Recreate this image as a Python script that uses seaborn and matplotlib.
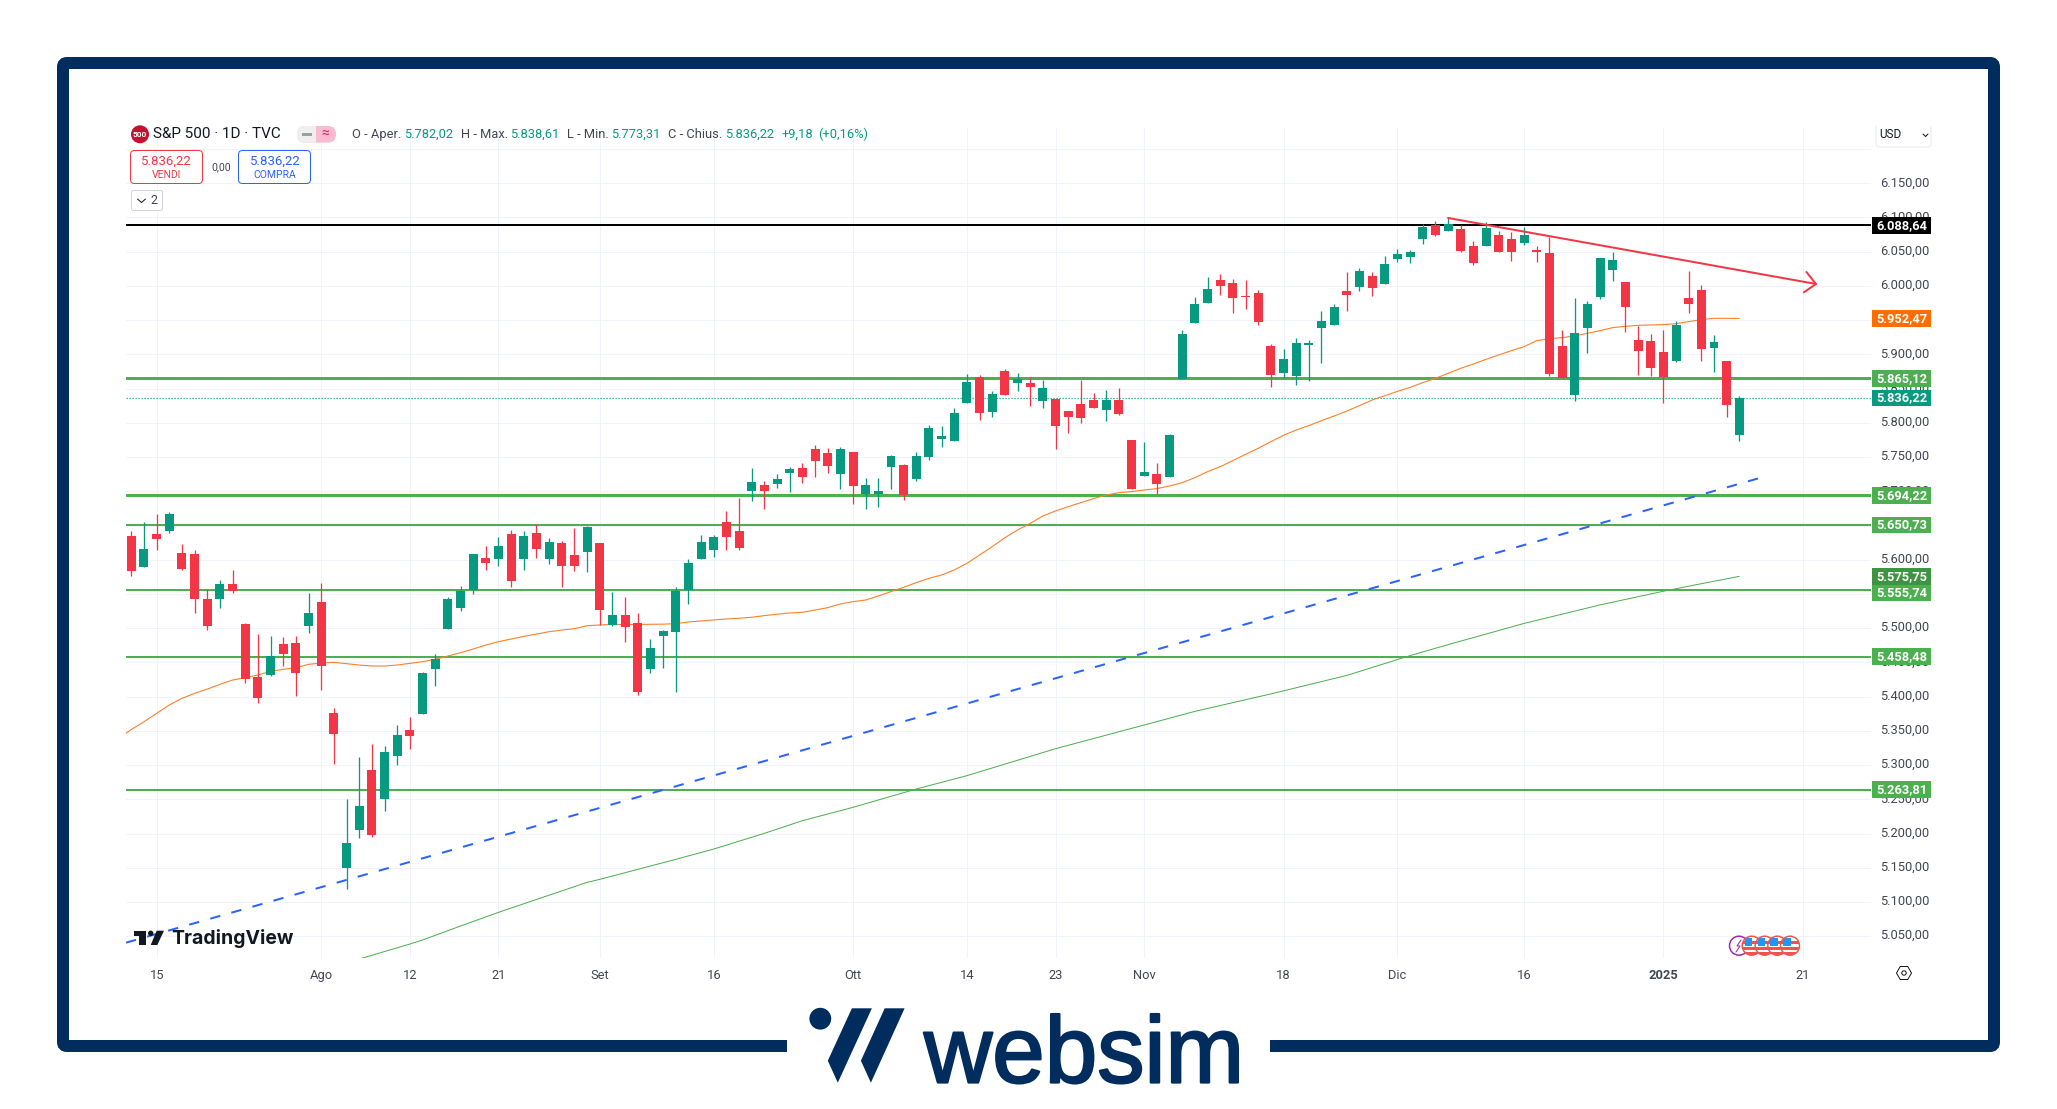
import numpy as np
import pandas as pd
import matplotlib
matplotlib.use("Agg")
import matplotlib.pyplot as plt
import matplotlib.patheffects as pe
from matplotlib.patches import Circle, FancyBboxPatch, Polygon, Rectangle, RegularPolygon
from matplotlib.transforms import ScaledTranslation
import seaborn as sns

# ── Daily candles (bar 0 = first visible session) ─
opens = [5634.7, 5589.4, 5637.6, 5642.0, 5609.8, 5608.4, 5542.6, 5542.6, 5564.6, 5506.1,
         5428.7, 5431.6, 5476.9, 5478.4, 5503.2, 5538.3, 5376.1, 5149.6, 5205.1, 5292.8,
         5250.4, 5313.3, 5351.2, 5374.6, 5440.4, 5498.8, 5529.5, 5555.8, 5602.5, 5601.1,
         5637.6, 5601.1, 5639.1, 5601.1, 5624.5, 5606.9, 5611.3, 5624.5, 5504.7, 5519.3,
         5507.6, 5440.4, 5488.6, 5494.5, 5555.8, 5601.1, 5614.3, 5655.2, 5642.1, 5700.5,
         5709.3, 5710.7, 5726.8, 5734.1, 5761.9, 5756.0, 5725.3, 5757.5, 5696.1, 5696.1,
         5735.6, 5738.5, 5718.0, 5750.2, 5776.5, 5773.5, 5829.1, 5867.0, 5815.9, 5875.8,
         5858.3, 5858.3, 5832.0, 5834.9, 5817.4, 5827.6, 5833.4, 5818.8, 5833.4, 5775.0,
         5722.4, 5725.3, 5720.9, 5864.1, 5945.9, 5975.1, 6008.7, 6004.3, 5985.3, 5989.7,
         5912.3, 5872.8, 5868.5, 5913.8, 5938.6, 5943.0, 5992.6, 5998.5, 6014.6, 6002.9,
         6039.4, 6042.3, 6068.6, 6089.1, 6080.3, 6083.2, 6058.4, 6058.4, 6074.5, 6068.6,
         6062.8, 6052.5, 6048.2, 5912.3, 5840.7, 5938.6, 5983.9, 6023.3, 6005.8, 5921.1,
         5919.6, 5903.5, 5890.4, 5982.4, 5994.1, 5909.4, 5890.4, 5782.02]
highs = [5642.0, 5655.1, 5666.8, 5669.7, 5623.0, 5614.2, 5557.3, 5570.4, 5585.0, 5507.6,
         5491.5, 5488.6, 5487.1, 5488.6, 5551.4, 5566.0, 5383.4, 5250.4, 5311.8, 5330.8,
         5327.9, 5358.6, 5370.2, 5436.0, 5462.3, 5545.6, 5561.6, 5608.4, 5620.1, 5633.2,
         5643.4, 5642.0, 5652.2, 5631.8, 5627.4, 5646.4, 5649.3, 5624.5, 5552.9, 5545.6,
         5522.2, 5484.3, 5497.4, 5560.2, 5601.1, 5636.2, 5636.2, 5671.3, 5690.3, 5734.1,
         5715.1, 5725.3, 5735.6, 5741.4, 5767.7, 5763.3, 5764.8, 5757.5, 5719.5, 5719.5,
         5753.1, 5739.9, 5757.5, 5796.9, 5795.5, 5821.8, 5871.4, 5870.0, 5846.6, 5878.7,
         5872.9, 5867.0, 5862.7, 5834.9, 5817.4, 5862.7, 5843.7, 5848.0, 5850.9, 5775.0,
         5772.0, 5741.4, 5783.7, 5935.7, 5983.9, 6013.1, 6017.5, 6010.2, 6008.7, 5994.1,
         5915.2, 5907.9, 5924.0, 5921.1, 5963.4, 5973.7, 6020.4, 6026.3, 6020.4, 6043.8,
         6054.0, 6052.5, 6090.5, 6094.9, 6100.8, 6089.1, 6065.7, 6093.5, 6080.3, 6078.8,
         6086.2, 6058.4, 6071.1, 5935.7, 5982.4, 5978.0, 6040.9, 6049.6, 6005.8, 5941.5,
         5929.8, 5935.7, 5948.8, 6021.9, 6001.4, 5928.4, 5890.4, 5838.61]
lows = [5576.2, 5589.4, 5614.2, 5639.6, 5585.0, 5522.2, 5497.3, 5529.5, 5551.4, 5419.9,
        5390.7, 5430.1, 5444.8, 5400.9, 5493.0, 5409.7, 5301.6, 5119.0, 5193.5, 5194.9,
        5232.9, 5300.1, 5323.5, 5374.6, 5415.5, 5498.8, 5525.1, 5549.9, 5585.0, 5590.9,
        5560.2, 5585.0, 5602.5, 5593.8, 5560.2, 5583.6, 5582.1, 5504.7, 5503.2, 5479.9,
        5402.4, 5434.6, 5441.9, 5406.8, 5535.4, 5601.1, 5604.1, 5614.3, 5614.3, 5685.9,
        5674.2, 5704.9, 5699.0, 5712.2, 5720.9, 5726.8, 5703.4, 5681.5, 5674.2, 5677.1,
        5703.4, 5687.3, 5715.1, 5745.8, 5764.8, 5773.5, 5829.1, 5804.2, 5808.6, 5840.7,
        5846.6, 5824.7, 5821.8, 5761.9, 5785.2, 5799.8, 5821.8, 5802.7, 5811.5, 5703.4,
        5722.4, 5696.1, 5720.9, 5864.1, 5945.9, 5975.1, 5986.8, 5960.5, 5966.4, 5943.0,
        5852.4, 5865.5, 5855.3, 5861.2, 5887.5, 5943.0, 5963.4, 5992.6, 5985.3, 6002.9,
        6035.0, 6033.6, 6061.3, 6073.0, 6080.3, 6049.6, 6030.6, 6058.4, 6049.6, 6036.5,
        6059.9, 6035.0, 5868.5, 5865.5, 5831.9, 5902.1, 5981.0, 6007.3, 5932.7, 5869.9,
        5868.5, 5829.0, 5888.9, 5960.5, 5890.4, 5874.3, 5808.6, 5773.31]
closes = [5584.0, 5615.7, 5630.3, 5666.8, 5586.5, 5542.6, 5503.2, 5564.6, 5554.3, 5425.8,
          5398.0, 5459.4, 5462.3, 5434.5, 5522.2, 5444.8, 5345.4, 5186.2, 5240.2, 5197.8,
          5319.1, 5343.9, 5342.5, 5434.5, 5455.0, 5542.6, 5554.3, 5608.4, 5595.2, 5620.1,
          5568.9, 5634.7, 5615.7, 5625.9, 5590.9, 5590.9, 5647.8, 5526.6, 5519.3, 5501.8,
          5406.8, 5471.1, 5495.9, 5554.4, 5595.3, 5626.0, 5633.3, 5633.3, 5617.2, 5713.6,
          5700.5, 5718.0, 5732.6, 5720.9, 5744.3, 5737.0, 5761.9, 5707.8, 5709.3, 5700.5,
          5751.6, 5694.6, 5751.6, 5792.5, 5780.8, 5814.4, 5859.7, 5814.4, 5842.2, 5840.7,
          5864.1, 5852.4, 5851.0, 5795.5, 5808.6, 5807.1, 5821.8, 5833.4, 5812.9, 5703.4,
          5728.2, 5710.7, 5782.3, 5929.8, 5973.7, 5995.6, 6000.0, 5982.4, 5983.9, 5947.4,
          5869.9, 5893.3, 5916.7, 5916.7, 5948.8, 5969.3, 5986.8, 6021.9, 5997.0, 6032.1,
          6046.7, 6049.6, 6086.2, 6074.5, 6090.5, 6051.1, 6033.6, 6084.7, 6049.6, 6049.6,
          6074.5, 6049.6, 5871.4, 5865.5, 5931.3, 5973.7, 6040.9, 6037.9, 5969.3, 5905.0,
          5880.2, 5867.0, 5943.0, 5973.7, 5907.9, 5918.1, 5826.1, 5836.22]

# ── Moving averages ───────────────────────────────────────────────────
ma50_values = [5339.0, 5352.0, 5363.4, 5375.6, 5387.8, 5397.5, 5404.8, 5411.0, 5418.0, 5424.3,
               5427.7, 5431.6, 5437.0, 5439.9, 5442.3, 5447.2, 5449.1, 5450.1, 5448.2, 5446.2,
               5444.8, 5444.8, 5446.2, 5448.7, 5451.1, 5454.5, 5459.4, 5464.2, 5469.6, 5475.4,
               5480.3, 5484.2, 5488.1, 5491.5, 5494.9, 5497.3, 5499.3, 5503.7, 5504.7, 5505.5,
               5505.5, 5505.5, 5505.7, 5505.9, 5506.7, 5509.1, 5510.6, 5512.0, 5513.5, 5514.5,
               5516.0, 5518.4, 5520.3, 5522.3, 5523.2, 5526.6, 5530.0, 5535.4, 5538.8, 5541.2,
               5547.1, 5553.4, 5559.8, 5566.6, 5572.9, 5577.8, 5585.1, 5594.8, 5607.0, 5619.2,
               5632.3, 5643.5, 5653.2, 5664.0, 5671.3, 5677.6, 5683.4, 5689.3, 5694.6, 5698.0,
               5699.5, 5701.9, 5703.9, 5707.8, 5712.6, 5719.9, 5728.7, 5736.0, 5744.8, 5754.0,
               5762.8, 5772.5, 5781.8, 5789.6, 5795.9, 5803.2, 5810.0, 5817.3, 5825.1, 5833.4,
               5839.7, 5846.0, 5851.9, 5858.7, 5865.0, 5872.4, 5879.7, 5886.0, 5892.8, 5899.2,
               5905.5, 5911.3, 5920.1, 5923.0, 5924.5, 5926.9, 5930.8, 5934.7, 5939.1, 5941.0,
               5942.5, 5943.0, 5943.5, 5944.9, 5947.8, 5950.8, 5952.7, 5952.7, 5952.47]
ma50_bars = list(range(-1, 128))

ma200_bars = [17, 18, 22, 23, 26, 29, 33, 36, 37, 43, 46, 50, 53, 57, 62, 66, 73, 80, 84, 90,
              96, 101, 104, 110, 116, 121, 124, 127]
ma200_values = [5012.0, 5016.7, 5038.6, 5044.5, 5064.9, 5084.9, 5110.0, 5128.7, 5133.1, 5162.3,
                5177.4, 5200.3, 5218.8, 5238.3, 5265.1, 5284.6, 5324.0, 5358.6, 5378.5, 5404.0,
                5431.0, 5460.0, 5476.0, 5507.0, 5534.0, 5554.0, 5565.0, 5575.75]

# ── Levels and drawings ───────────────────────────────────────────────
green_levels = [5865.12, 5694.22, 5650.73, 5555.74, 5458.48, 5263.81]
green_widths = [3, 3, 2, 2, 2, 2]
ath_level = 6088.64
last_price = 5836.22

trend_bars = [-0.42, 128.7]
trend_prices = [5040.6, 5719.9]
resist_bars = [104, 133.05]
resist_prices = [6099.3, 6002.9]
head_bars = [132.3, 133.05, 132.1]
head_prices = [6020.4, 6002.9, 5990.7]

# ── Axis labels ───────────────────────────────────────────────────────
date_bars = [2, 15, 22, 29, 37, 46, 57, 66, 73, 80, 91, 100, 110, 121, 132]
date_labels = ["15", "Ago", "12", "21", "Set", "16", "Ott", "14", "23", "Nov", "18", "Dic", "16", "2025", "21"]
price_ticks = list(range(5050, 6250, 50))

tag_values = ["6.088,64", "5.952,47", "5.865,12", "5.836,22", "5.694,22", "5.650,73",
              "5.575,75", "5.555,74", "5.458,48", "5.263,81"]
tag_prices = [6088.64, 5952.47, 5865.12, 5836.22, 5694.22, 5650.73, 5575.75, 5551.5, 5458.48, 5263.81]
tag_colors = ["#000000", "#FF6D00", "#4CAF50", "#089981", "#4CAF50", "#4CAF50",
              "#3F9443", "#4CAF50", "#4CAF50", "#4CAF50"]

UP = "#089981"
DOWN = "#F23645"
NAVY = "#002D5D"
GRID = "#F0F3FA"
TEXT = "#434651"
PX = 72 / 100  # one pixel in points at dpi 100

sns.set_theme(style="white", rc={"axes.facecolor": "white", "figure.facecolor": "white"})
plt.rcParams["font.family"] = ["Roboto", "DejaVu Sans"]

W, H = 2057, 1109
fig = plt.figure(figsize=(W / 100, H / 100), dpi=100)
ax = fig.add_axes([126 / W, 1 - 958 / H, (1871 - 126) / W, (958 - 127) / H])

df = pd.DataFrame({"bar": np.arange(len(opens)), "open": opens, "high": highs, "low": lows, "close": closes})
df["body_low"] = df[["open", "close"]].min(axis=1)
df["body"] = (df["close"] - df["open"]).abs()
df["up"] = df["close"] >= df["open"]

# ── Candles ───────────────────────────────────────────────────────────
for is_up, color in [(True, UP), (False, DOWN)]:
    sub = df[df["up"] == is_up]
    ax.vlines(sub["bar"], sub["low"], sub["high"], color=color, linewidth=1.3 * PX, zorder=3)
    sns.barplot(data=sub, x="bar", y="body", bottom=sub["body_low"].values, native_scale=True,
                color=color, saturation=1, width=0.71, linewidth=0, errorbar=None, ax=ax, zorder=3.1)

# ── Indicators and levels ─────────────────────────────────────────────
sns.lineplot(x=ma50_bars, y=ma50_values, color="#FF7F27", linewidth=1.1 * PX, ax=ax, zorder=2.5)
sns.lineplot(x=ma200_bars, y=ma200_values, color="#4CAF50", linewidth=1 * PX, ax=ax, zorder=2.5)

for level, width in zip(green_levels, green_widths):
    ax.axhline(level, color="#4CAF50", linewidth=width * PX, zorder=2.4)
ax.axhline(ath_level, color="black", linewidth=2 * PX, zorder=2.4)
ax.axhline(last_price, color=UP, linewidth=1.2 * PX, linestyle=(0, (1, 1.5)), zorder=2.3)

ax.plot(trend_bars, trend_prices, color="#2962FF", linewidth=2 * PX, linestyle=(0, (5.2, 5.75)), zorder=4)
ax.plot(resist_bars, resist_prices, color=DOWN, linewidth=2 * PX, zorder=4)
ax.plot(head_bars, head_prices, color=DOWN, linewidth=2 * PX, zorder=4)

# ── Axes ──────────────────────────────────────────────────────────────
ax.set_xlim(-0.42, 137.4)
ax.set_ylim(5018.2, 6232.2)
ax.set_xticks(date_bars)
ax.set_xticklabels(date_labels)
ax.set_yticks(price_ticks)
# the top tick sits under the currency box, so its label stays empty
ax.set_yticklabels([f"{p // 1000}.{p % 1000:03d},00" if p < 6200 else "" for p in price_ticks])
ax.yaxis.tick_right()
ax.set_xlabel("")
ax.set_ylabel("")
ax.tick_params(axis="x", length=0, pad=8, labelsize=9.3, labelcolor=TEXT)
ax.tick_params(axis="y", length=0, pad=6.5, labelsize=9.3, labelcolor=TEXT)
ax.get_xticklabels()[13].set_fontweight("bold")
ax.grid(True, color=GRID, linewidth=1 * PX, zorder=0)
ax.set_axisbelow(True)
ax.spines[["top", "right", "left", "bottom"]].set_visible(False)

lift = ScaledTranslation(0, 2 / 100, fig.dpi_scale_trans)
for label in ax.get_yticklabels():
    label.set_transform(label.get_transform() + lift)

# ── Price tags on the right scale ─────────────────────────────────────
tr = ax.get_yaxis_transform()
for label, price, color in zip(tag_values, tag_prices, tag_colors):
    ax.add_patch(Rectangle((1.0006, price - 12.3), 0.0338, 24.6, transform=tr, facecolor=color,
                           edgecolor="none", clip_on=False, zorder=10))
    ax.text(1.0175, price, label, transform=tr, color="white", fontsize=9.3, fontweight="bold",
            ha="center", va="center", clip_on=False, zorder=11)

# ── Overlay in pixel coordinates: frame, header, logos ────────────────
ov = fig.add_axes([0, 0, 1, 1], zorder=5)
ov.set_xlim(0, W)
ov.set_ylim(H, 0)
ov.axis("off")
ov.patch.set_alpha(0)

ov.add_patch(FancyBboxPatch((63, 63), 1931, 983, boxstyle="round,pad=0,rounding_size=4",
                            facecolor="none", edgecolor=NAVY, linewidth=12 * PX))
ov.add_patch(Rectangle((787, 1030), 483, 30, facecolor="white", edgecolor="none"))

# header line
ov.add_patch(Circle((140, 134.3), 9, facecolor="#C4122F", edgecolor="none"))
ov.text(140, 134.5, "500", color="white", fontsize=6, fontweight="bold", ha="center", va="center")
ov.text(153, 134.3, "S&P 500 · 1D · TVC", color="#131722", fontsize=11, ha="left", va="center")

pill = FancyBboxPatch((297, 126), 39, 16.6, boxstyle="round,pad=0,rounding_size=8",
                      facecolor="#F8BBD0", edgecolor="none")
ov.add_patch(pill)
grey = FancyBboxPatch((297, 126), 39, 16.6, boxstyle="round,pad=0,rounding_size=8",
                      facecolor="#EFEFEF", edgecolor="none")
ov.add_patch(grey)
grey.set_clip_path(Rectangle((297, 126), 19, 16.6, transform=ov.transData))
ov.add_patch(Rectangle((302, 132.5), 10, 3.5, facecolor="#9E9E9E", edgecolor="none"))
ov.text(325, 134, "≈", color="#E0245E", fontsize=10, ha="center", va="center")

header = [(352, "O - Aper.", TEXT), (404.3, "5.782,02", UP), (460.7, "H - Max.", TEXT), (510.4, "5.838,61", UP),
          (567, "L - Min.", TEXT), (611.4, "5.773,31", UP), (667.9, "C - Chius.", TEXT), (724.6, "5.836,22", UP),
          (781.4, "+9,18", UP), (817.9, "(+0,16%)", UP)]
for x, label, color in header:
    ov.text(x, 134.3, label, color=color, fontsize=9.3, ha="left", va="center")

# buy / sell buttons
ov.add_patch(FancyBboxPatch((130.5, 150.5), 72, 33, boxstyle="round,pad=0,rounding_size=4",
                            facecolor="white", edgecolor=DOWN, linewidth=1 * PX))
ov.text(166.5, 161, "5.836,22", color=DOWN, fontsize=9.5, ha="center", va="center")
ov.text(166.5, 175, "VENDI", color=DOWN, fontsize=7.5, ha="center", va="center")
ov.text(220.7, 167, "0,00", color=TEXT, fontsize=7.5, ha="center", va="center")
ov.add_patch(FancyBboxPatch((238.5, 150.5), 72, 33, boxstyle="round,pad=0,rounding_size=4",
                            facecolor="white", edgecolor="#2962FF", linewidth=1 * PX))
ov.text(275, 161, "5.836,22", color="#2962FF", fontsize=9.5, ha="center", va="center")
ov.text(275, 175, "COMPRA", color="#2962FF", fontsize=7.5, ha="center", va="center")
ov.add_patch(FancyBboxPatch((131.5, 190.5), 31, 20, boxstyle="round,pad=0,rounding_size=2",
                            facecolor="white", edgecolor="#D1D4DC", linewidth=1 * PX))
ov.plot([137.5, 141.5, 145.5], [199, 202.5, 199], color="#131722", linewidth=1 * PX)
ov.text(154, 200.5, "2", color=TEXT, fontsize=9, ha="center", va="center")

# currency box
ov.add_patch(FancyBboxPatch((1876, 120), 55, 27, boxstyle="round,pad=0,rounding_size=3",
                            facecolor="white", edgecolor="#E8EAF0", linewidth=1 * PX))
ov.add_patch(Rectangle((1870, 118), 63, 8, facecolor="white", edgecolor="none"))
ov.add_patch(Rectangle((1933, 118), 3, 30, facecolor="white", edgecolor="none"))
ov.text(1879, 134.5, "USD", color="#131722", fontsize=8.5, ha="left", va="center")
ov.plot([1923, 1925.5, 1928], [134, 136.5, 134], color="#131722", linewidth=1 * PX)

# TradingView mark
TV_DARK = "#131722"
ov.add_patch(Polygon([(134, 930.7), (146, 930.7), (146, 945), (139.3, 945), (139.3, 936), (134, 936)],
                     facecolor=TV_DARK, edgecolor="none"))
ov.add_patch(Circle((150.7, 933.3), 2.7, facecolor=TV_DARK, edgecolor="none"))
ov.add_patch(Polygon([(156.7, 930.7), (164, 930.7), (157.3, 945), (150.7, 945)], facecolor=TV_DARK, edgecolor="none"))
ov.text(171.5, 944, "TradingView", color=TV_DARK, fontsize=14, fontweight="bold", family="Inter",
        ha="left", va="baseline")

# event icons
icon_x = [1739, 1751.7, 1764.7, 1777.3, 1790]
ring = Circle((icon_x[0], 945.7), 9.5, facecolor="white", edgecolor="#9C27B0", linewidth=1.5 * PX)
ov.add_patch(ring)
ov.plot([1741, 1737, 1740, 1736], [940, 946, 946, 952], color="#9C27B0", linewidth=1 * PX)
for x in icon_x[1:]:
    disc = Circle((x, 945.7), 9.5, facecolor="white", edgecolor="none")
    ov.add_patch(disc)
    for top in [941, 947, 952]:
        stripe = Rectangle((x - 10, top), 20, 2.8, facecolor="#EF5350", edgecolor="none")
        ov.add_patch(stripe)
        stripe.set_clip_path(disc)
    canton = Rectangle((x - 7, 938), 7.5, 8, facecolor="#2196F3", edgecolor="none")
    ov.add_patch(canton)
    canton.set_clip_path(disc)
    ov.add_patch(Circle((x, 945.7), 9.5, facecolor="none", edgecolor="#EF5350", linewidth=1.5 * PX))

# settings icon
ov.add_patch(RegularPolygon((1904, 973), 6, radius=7.5, orientation=np.pi / 2, facecolor="none",
                            edgecolor="#131722", linewidth=1 * PX))
ov.add_patch(Circle((1904, 973), 2.2, facecolor="none", edgecolor="#131722", linewidth=1 * PX))

# websim logo
ov.add_patch(Circle((820.3, 1018.7), 10.9, facecolor=NAVY, edgecolor="none"))
ov.add_patch(Polygon([(851.9, 1008.3), (871.9, 1008.3), (837.8, 1082.7), (827.8, 1060.7)], facecolor=NAVY, edgecolor="none"))
ov.add_patch(Polygon([(884.7, 1008.3), (904.6, 1008.3), (870.9, 1082.7), (860.9, 1060.7)], facecolor=NAVY, edgecolor="none"))
ov.text(924, 1082.5, "websim", color=NAVY, fontsize=68, family="Liberation Sans", ha="left", va="baseline",
        path_effects=[pe.withStroke(linewidth=1.6, foreground=NAVY)])

plt.savefig("out.png", dpi=100)
plt.close()
